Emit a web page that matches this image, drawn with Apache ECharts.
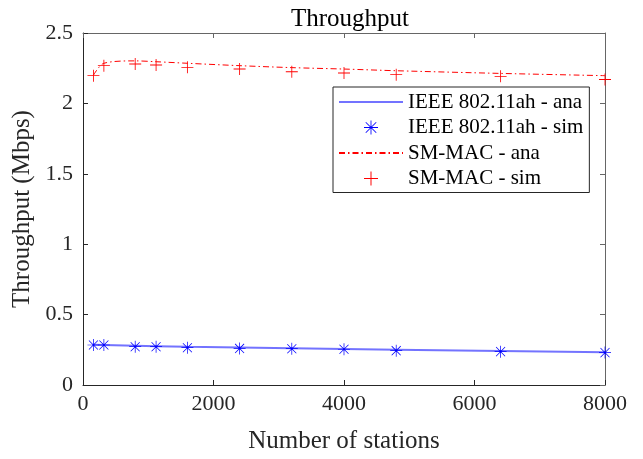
<!DOCTYPE html>
<html>
<head>
<meta charset="utf-8">
<script src="https://cdn.jsdelivr.net/npm/echarts@6/dist/echarts.min.js"></script>
<style>html,body{margin:0;padding:0;background:#fff}#c{width:643px;height:459px}</style>
</head>
<body>
<div id="c"></div>
<script>
const stations = [160, 320, 800, 1120, 1600, 2400, 3200, 4000, 4800, 6400, 8000];
const ieeeAna = [0.285, 0.284, 0.279, 0.276, 0.272, 0.266, 0.261, 0.256, 0.251, 0.242, 0.232];
const ieeeSim = [0.284, 0.284, 0.272, 0.272, 0.265, 0.260, 0.258, 0.254, 0.244, 0.237, 0.230];
const smAna = [2.200, 2.285, 2.302, 2.296, 2.285, 2.268, 2.254, 2.244, 2.232, 2.213, 2.197];
const smSim = [2.197, 2.268, 2.280, 2.273, 2.256, 2.244, 2.225, 2.216, 2.204, 2.192, 2.170];
const xTicks = [0, 2000, 4000, 6000, 8000];
const yTicks = [0, 0.5, 1, 1.5, 2, 2.5];
const names = ['IEEE 802.11ah - ana', 'IEEE 802.11ah - sim', 'SM-MAC - ana', 'SM-MAC - sim'];

const pair = (xs, ys) => xs.map((x, i) => [x, ys[i]]);
const FONT = '"Liberation Serif", "Times New Roman", serif';
const PLUS = 'path://M9.3,0H10.7V20H9.3Z M0,9.3H20V10.7H0Z';
const STAR = 'path://M9.4,0H10.6V20H9.4Z M0,9.4H20V10.6H0Z M2.9,2.05L17.95,17.1L17.1,17.95L2.05,2.9Z M17.1,2.05L17.95,2.9L2.9,17.95L2.05,17.1Z';

const chart = echarts.init(document.getElementById('c'), null, {renderer: 'canvas'});
const axisCommon = {
  axisLine: {show: true, onZero: false, lineStyle: {color: '#262626', width: 1}},
  axisTick: {show: true, inside: true, length: 5, lineStyle: {color: '#262626'}},
  splitLine: {show: false},
  axisLabel: {color: '#262626', fontFamily: FONT, fontSize: 22}
};
const hiddenSym = {color: 'rgba(0,0,0,0)', opacity: 0, borderWidth: 0};
chart.setOption({
  animation: false,
  backgroundColor: '#fff',
  title: {
    text: 'Throughput', left: 345, top: 2, textAlign: 'center',
    textStyle: {fontFamily: FONT, fontSize: 25, fontWeight: 'normal', color: '#000'}
  },
  grid: {left: 83, top: 33, width: 522, height: 357, show: false},
  legend: {
    orient: 'vertical', left: 333, top: 87,
    padding: [3, 6, 2, 5], itemGap: 1.5, itemWidth: 64, itemHeight: 14,
    backgroundColor: '#fff', borderColor: '#262626', borderWidth: 1,
    textStyle: {fontFamily: FONT, fontSize: 21, color: '#000', lineHeight: 24},
    data: [
      {name: names[0], itemStyle: hiddenSym},
      {name: names[1]},
      {name: names[2], itemStyle: hiddenSym},
      {name: names[3]}
    ]
  },
  xAxis: [
    Object.assign({}, axisCommon, {
      type: 'value', min: 0, max: 8000, interval: 2000, position: 'bottom',
      name: 'Number of stations', nameLocation: 'middle', nameGap: 44,
      nameTextStyle: {fontFamily: FONT, fontSize: 25, color: '#262626'},
      axisLabel: Object.assign({}, axisCommon.axisLabel, {margin: 8,
        formatter: v => xTicks.includes(v) ? String(v) : ''})
    }),
    Object.assign({}, axisCommon, {
      type: 'value', min: 0, max: 8000, interval: 2000, position: 'top',
      axisLine: {show: true, onZero: false, lineStyle: {color: '#666', width: 1}},
      axisTick: {show: true, inside: true, length: 5, lineStyle: {color: '#666'}},
      axisLabel: {show: false}
    })
  ],
  yAxis: [
    Object.assign({}, axisCommon, {
      type: 'value', min: 0, max: 2.5, interval: 0.5, position: 'left',
      name: 'Throughput (Mbps)', nameLocation: 'middle', nameGap: 41,
      nameTextStyle: {fontFamily: FONT, fontSize: 25, color: '#262626'},
      axisLabel: Object.assign({}, axisCommon.axisLabel, {margin: 10, padding: [6, 0, 0, 0],
        formatter: v => yTicks.includes(v) ? String(v) : ''})
    }),
    Object.assign({}, axisCommon, {
      type: 'value', min: 0, max: 2.5, interval: 0.5, position: 'right',
      axisLine: {show: true, onZero: false, lineStyle: {color: '#666', width: 1}},
      axisTick: {show: true, inside: true, length: 5, lineStyle: {color: '#666'}},
      axisLabel: {show: false}
    })
  ],
  series: [
    {name: names[0], type: 'line', data: pair(stations, ieeeAna), showSymbol: false, symbol: 'none',
     lineStyle: {color: 'rgba(40,40,255,0.65)', width: 2}, itemStyle: {color: 'rgba(40,40,255,0.65)'}, z: 2},
    {name: names[1], type: 'scatter', data: pair(stations, ieeeSim), symbol: STAR, symbolSize: 12,
     symbolKeepAspect: true, itemStyle: {color: '#0000ff', opacity: 1}, z: 3},
    {name: names[2], type: 'line', data: pair(stations, smAna), showSymbol: false, symbol: 'none', smooth: 0.3,
     lineStyle: {color: '#ff0000', width: 1, type: [6, 3, 1.5, 3]}, itemStyle: {color: '#ff0000'}, z: 2},
    {name: names[3], type: 'scatter', data: pair(stations, smSim), symbol: PLUS, symbolSize: 12,
     symbolKeepAspect: true, itemStyle: {color: '#ff0000', opacity: 1}, z: 3}
  ]
});
</script>
</body>
</html>
